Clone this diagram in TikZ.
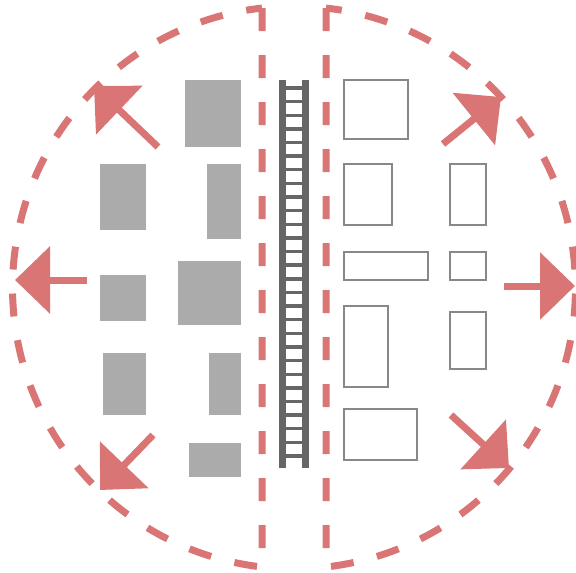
\documentclass[tikz,border=0pt]{standalone}
\usepackage{tikz}
\usetikzlibrary{arrows.meta}
\definecolor{zoneRed}{HTML}{D97575}
\definecolor{blockGrey}{HTML}{ABABAB}
\definecolor{frameGrey}{HTML}{888888}
\definecolor{ladderGrey}{HTML}{666666}
\tikzset{
  zone/.style={draw=zoneRed,line width=7pt,dash pattern=on 23pt off 24pt},
  spread/.style={draw=zoneRed,line width=7pt,-{Triangle[length=35pt,width=66pt]}},
  solidblock/.style={fill=blockGrey},
  openblock/.style={draw=frameGrey,line width=2pt},
  rail/.style={draw=ladderGrey,line width=7pt},
  rung/.style={draw=ladderGrey,line width=3.4pt}
}

\begin{document}
\begin{tikzpicture}[x=1pt,y=-1pt]
\useasboundingbox (0,0) rectangle (576,573);

% two dashed zones
\draw[zone] (262,8) -- (262,567) arc[start angle=96.5,end angle=263.5,radius=281.3] -- cycle;
\draw[zone] (326,8) -- (326,567) arc[start angle=83.5,end angle=-83.5,radius=281.3] -- cycle;

% ladder in the middle
\draw[rail] (282,80) -- (282,468);
\draw[rail] (305,80) -- (305,468);
\foreach \i in {0,...,27}
  \draw[rung] (285,88+\i*13.63) -- (302,88+\i*13.63);

% left side: solid blocks
\fill[solidblock] (185,80) rectangle (241,147);
\fill[solidblock] (100,164) rectangle (146,230);
\fill[solidblock] (207,164) rectangle (241,239);
\fill[solidblock] (100,275) rectangle (146,321);
\fill[solidblock] (178,261) rectangle (241,325);
\fill[solidblock] (103,353) rectangle (146,415);
\fill[solidblock] (209,353) rectangle (241,415);
\fill[solidblock] (189,443) rectangle (241,477);

% right side: open blocks
\draw[openblock] (344,80) rectangle (408,139);
\draw[openblock] (344,164) rectangle (392,225);
\draw[openblock] (450,164) rectangle (486,225);
\draw[openblock] (344,252) rectangle (428,280);
\draw[openblock] (450,252) rectangle (486,280);
\draw[openblock] (344,306) rectangle (388,387);
\draw[openblock] (450,312) rectangle (486,369);
\draw[openblock] (344,409) rectangle (417,460);

% arrows pointing out
\draw[spread] (158,147) -- (94,86);
\draw[spread] (87,280) -- (15,280);
\draw[spread] (153,435) -- (100,490);
\draw[spread] (443,144) -- (501,97);
\draw[spread] (504,286) -- (575,286);
\draw[spread] (451,415) -- (509,468);
\end{tikzpicture}
\end{document}
